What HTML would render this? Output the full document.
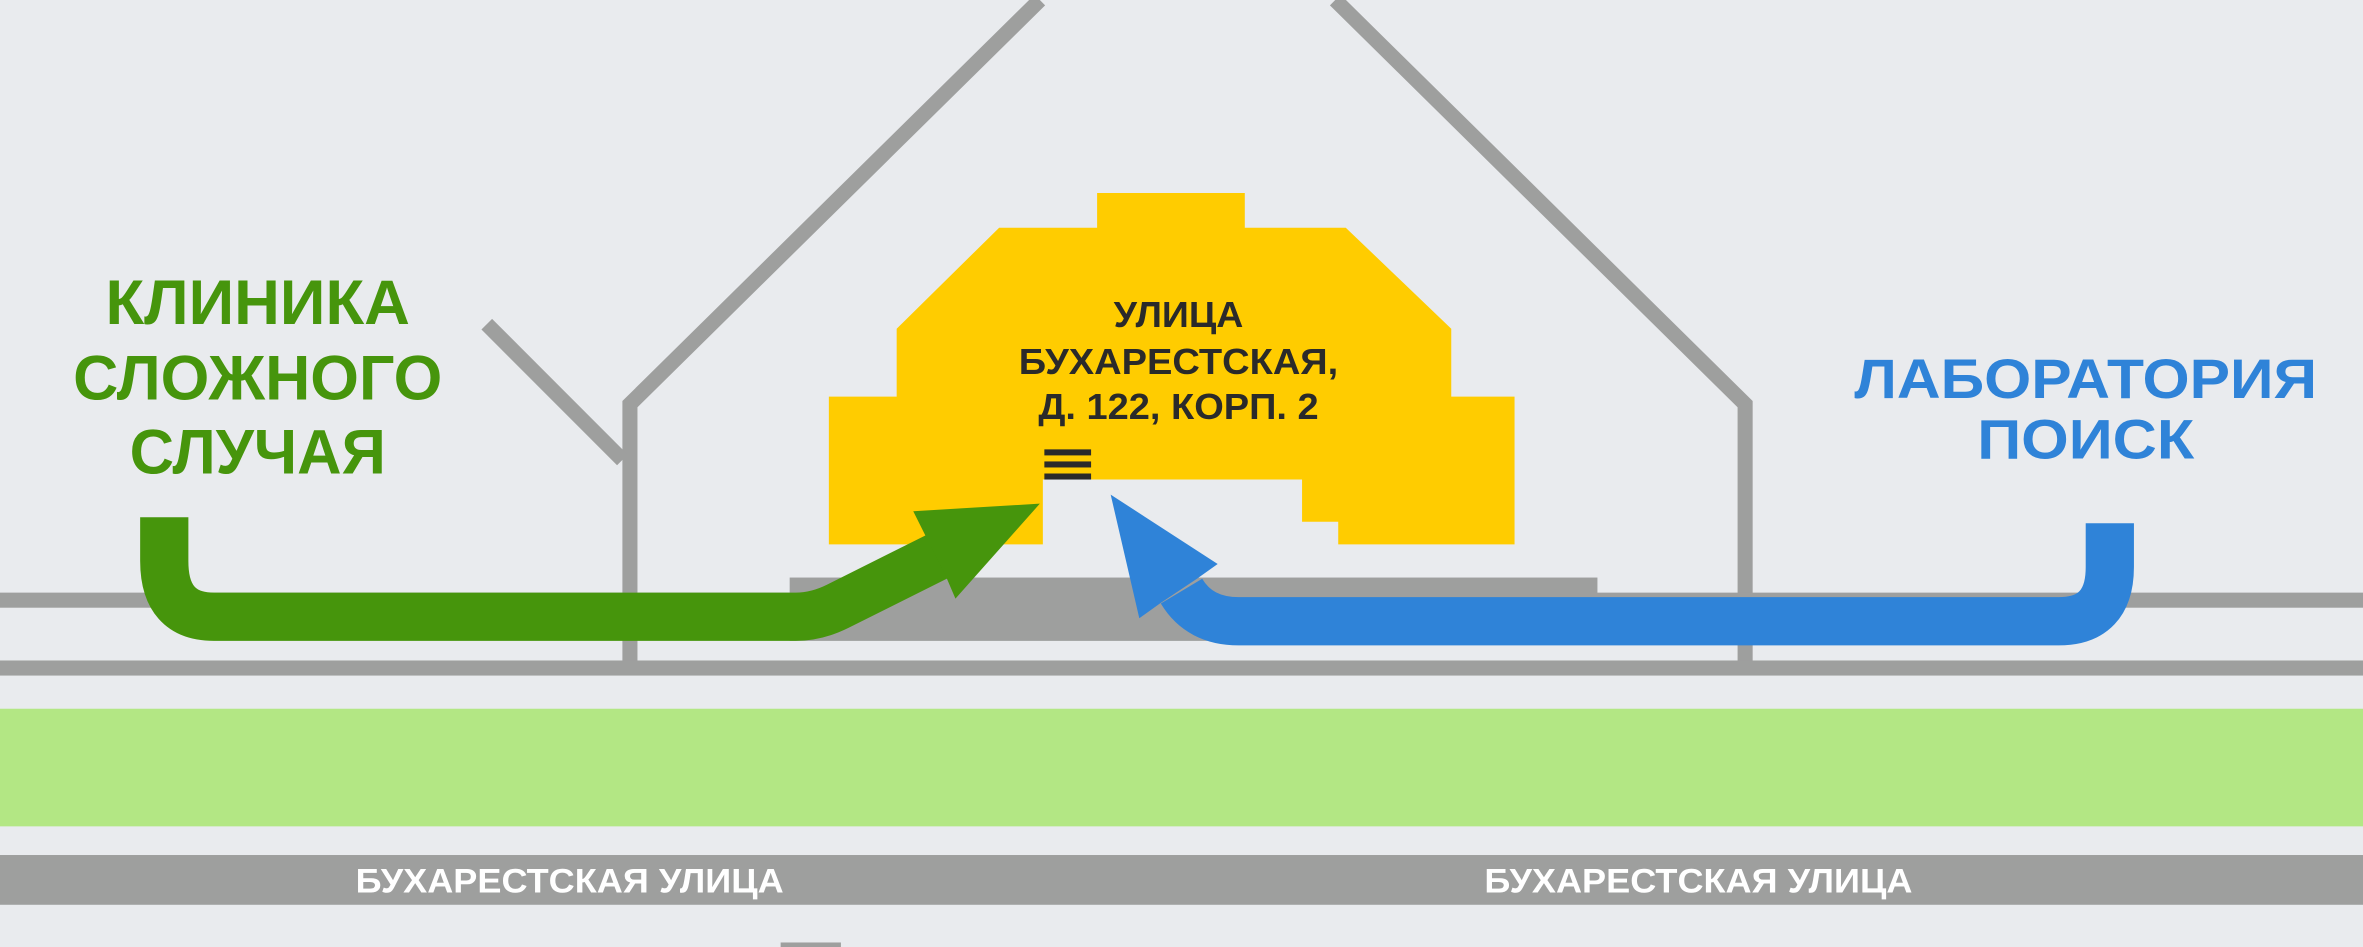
<!DOCTYPE html>
<html><head><meta charset="utf-8"><style>
html,body{margin:0;padding:0;background:#e9ebee;overflow:hidden}
svg{display:block}
text{font-family:"Liberation Sans",sans-serif;font-weight:bold}
</style></head><body>
<svg width="2363" height="947" viewBox="0 0 1568 628" preserveAspectRatio="none" xmlns="http://www.w3.org/2000/svg">
<rect width="1568" height="628" fill="#e9ebee"/>
<g stroke="#9e9f9e" stroke-width="10" fill="none">
<polyline points="690,0 418,268 418,438"/>
<polyline points="886,0 1158,268 1158,438"/>
<line x1="323" y1="215" x2="413" y2="305"/>
</g>
<rect x="0" y="393" width="1568" height="10" fill="#9e9f9e"/>
<rect x="0" y="438" width="1568" height="10" fill="#9e9f9e"/>
<rect x="524" y="383" width="536" height="42" fill="#9e9f9e"/>
<rect x="0" y="470" width="1568" height="78" fill="#b3e784"/>
<rect x="0" y="567" width="1568" height="33" fill="#9e9f9e"/>
<rect x="518" y="625" width="40" height="3" fill="#9e9f9e"/>
<text x="378" y="592" font-size="23" fill="#fff" text-anchor="middle" textLength="284" lengthAdjust="spacingAndGlyphs">БУХАРЕСТСКАЯ УЛИЦА</text>
<text x="1127" y="592" font-size="23" fill="#fff" text-anchor="middle" textLength="284" lengthAdjust="spacingAndGlyphs">БУХАРЕСТСКАЯ УЛИЦА</text>
<polygon fill="#ffcc00" points="728,128 826,128 826,151 893,151 963,218 963,263 1005,263 1005,361 888,361 888,346 864,346 864,318 692,318 692,345 692,361 550,361 550,263 595,263 595,218 663,151 728,151"/>
<g fill="#2a2a2a" font-size="24" text-anchor="middle">
<text x="782" y="217" textLength="86" lengthAdjust="spacingAndGlyphs">УЛИЦА</text>
<text x="782" y="248" textLength="212" lengthAdjust="spacingAndGlyphs">БУХАРЕСТСКАЯ,</text>
<text x="782" y="278" textLength="186" lengthAdjust="spacingAndGlyphs">Д. 122, КОРП. 2</text>
</g>
<rect x="693" y="298" width="31" height="4" fill="#2a2a2a"/>
<rect x="693" y="306" width="31" height="4" fill="#2a2a2a"/>
<rect x="693" y="314" width="31" height="4" fill="#2a2a2a"/>
<g fill="#46950c" font-size="42" text-anchor="middle">
<text x="171" y="215" textLength="202" lengthAdjust="spacingAndGlyphs">КЛИНИКА</text>
<text x="171" y="265" textLength="245" lengthAdjust="spacingAndGlyphs">СЛОЖНОГО</text>
<text x="171" y="314" textLength="170" lengthAdjust="spacingAndGlyphs">СЛУЧАЯ</text>
</g>
<g fill="#2f83d8" font-size="37" text-anchor="middle">
<text x="1384" y="264" textLength="307" lengthAdjust="spacingAndGlyphs">ЛАБОРАТОРИЯ</text>
<text x="1384" y="304" textLength="144" lengthAdjust="spacingAndGlyphs">ПОИСК</text>
</g>
<path d="M109,343 V372 Q109,409 142,409 H528 Q542,409 556,402 L628,366" stroke="#46950c" stroke-width="32" fill="none"/>
<polygon fill="#46950c" points="606,339 690,334 634,397 628,383 614,355"/>
<path d="M1400,347 V376 Q1400,412 1366,412 H822 Q796,412 784,392" stroke="#2f83d8" stroke-width="32" fill="none"/>
<polygon fill="#2f83d8" points="737,328 808,374 794,384 770,400 756,410"/>
</svg>
</body></html>
